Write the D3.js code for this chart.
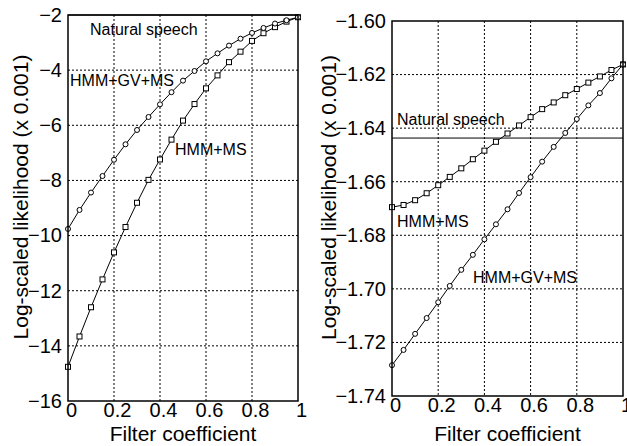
<!DOCTYPE html>
<html>
<head>
<meta charset="utf-8">
<title>Log-scaled likelihood vs filter coefficient</title>
<style>
  body { margin: 0; background: #fff; }
  text { font-family: "Liberation Sans", Arial, Helvetica, sans-serif; fill: #000; }
  .grid line { stroke: #000; stroke-width: 1; stroke-dasharray: 2,2; }
  .frame { fill: none; stroke: #000; stroke-width: 1.5; }
  .line { fill: none; stroke: #000; stroke-width: 1; }
</style>
<script src="https://d3js.org/d3.v7.min.js"></script>
</head>
<body>
<div id="chart"></div>
<script>
// filter coefficients (x values)
var coef = [0, 0.05, 0.1, 0.15, 0.2, 0.25, 0.3, 0.35, 0.4, 0.45, 0.5,
            0.55, 0.6, 0.65, 0.7, 0.75, 0.8, 0.85, 0.9, 0.95, 1.0];

// left panel (x 0.001)
var leftGvMs = [-9.76, -9.07, -8.44, -7.84, -7.25, -6.69, -6.17, -5.70, -5.24, -4.80, -4.38,
                -4.03, -3.68, -3.39, -3.11, -2.86, -2.65, -2.47, -2.31, -2.19, -2.08];
var leftMs = [-14.76, -13.66, -12.60, -11.59, -10.61, -9.69, -8.81, -7.98, -7.24, -6.52, -5.83,
              -5.23, -4.66, -4.19, -3.71, -3.33, -2.94, -2.66, -2.44, -2.24, -2.08];

// right panel (x 0.001)
var rightGvMs = [-1.7285, -1.7228, -1.7168, -1.7109, -1.7050, -1.6989, -1.6929, -1.6873, -1.6815, -1.6759, -1.6703,
                 -1.6642, -1.6583, -1.6525, -1.6470, -1.6418, -1.6366, -1.6315, -1.6269, -1.6214, -1.6162];
var rightMs = [-1.6695, -1.6687, -1.6669, -1.6643, -1.6613, -1.6582, -1.6550, -1.6516, -1.6484, -1.6451, -1.6420,
               -1.6390, -1.6359, -1.6329, -1.6304, -1.6277, -1.6254, -1.6230, -1.6207, -1.6183, -1.6162];

var naturalSpeech = -1.6437;

var xTicks = [0, 0.2, 0.4, 0.6, 0.8, 1];
var leftYTicks = [-2, -4, -6, -8, -10, -12, -14, -16];
var rightYTicks = [-1.60, -1.62, -1.64, -1.66, -1.68, -1.70, -1.72, -1.74];

var W = 627, H = 446;
var svg = d3.select("#chart").append("svg")
  .attr("width", W)
  .attr("height", H);

var panels = [
  {
    x0: 68, x1: 298, yTop: 15, yBot: 401,
    domain: [-16, -2], yTicks: leftYTicks, fmt: d3.format("d"),
    gv: leftGvMs, ms: leftMs, labelX: 21,
    notes: [
      {text: "Natural speech", x: 90, y: 29},
      {text: "HMM+GV+MS", x: 70, y: 80},
      {text: "HMM+MS", x: 175, y: 149}
    ]
  },
  {
    x0: 392, x1: 623, yTop: 21, yBot: 396,
    domain: [-1.74, -1.60], yTicks: rightYTicks, fmt: d3.format(".2f"),
    gv: rightGvMs, ms: rightMs, labelX: 329,
    notes: [
      {text: "Natural speech", x: 397, y: 119},
      {text: "HMM+MS", x: 397, y: 221},
      {text: "HMM+GV+MS", x: 473, y: 277}
    ]
  }
];

panels.forEach(function(p) {
  var x = d3.scaleLinear().domain([0, 1]).range([p.x0, p.x1]);
  var y = d3.scaleLinear().domain(p.domain).range([p.yBot, p.yTop]).clamp(true);

  var g = svg.append("g");

  // grid
  var grid = g.append("g").attr("class", "grid");
  grid.selectAll(".vx").data(xTicks.slice(1, -1)).enter()
    .append("line")
    .attr("x1", d => x(d)).attr("x2", d => x(d))
    .attr("y1", p.yTop).attr("y2", p.yBot);
  grid.selectAll(".hy").data(p.yTicks.slice(1, -1)).enter()
    .append("line")
    .attr("x1", p.x0).attr("x2", p.x1)
    .attr("y1", d => y(d)).attr("y2", d => y(d));

  // axes (labels only, frame drawn separately)
  var xAxis = d3.axisBottom(x).tickValues(xTicks).tickSize(0).tickPadding(2)
    .tickFormat(d3.format("~g"));
  g.append("g")
    .attr("transform", "translate(0," + p.yBot + ")")
    .call(xAxis)
    .call(s => s.select(".domain").remove())
    .selectAll("text")
    .style("font-size", "20px")
    .attr("dx", "3");

  var yAxis = d3.axisLeft(y).tickValues(p.yTicks).tickSize(0).tickPadding(6)
    .tickFormat(p.fmt);
  g.append("g")
    .attr("transform", "translate(" + p.x0 + ",0)")
    .call(yAxis)
    .call(s => s.select(".domain").remove())
    .selectAll("text")
    .style("font-size", "20px");

  g.selectAll(".tick line").remove();

  // natural speech reference line
  g.append("line")
    .attr("class", "line")
    .attr("x1", p.x0).attr("x2", p.x1)
    .attr("y1", y(naturalSpeech)).attr("y2", y(naturalSpeech));

  var line = d3.line()
    .x((d, i) => x(coef[i]))
    .y(d => y(d));

  // HMM+MS with squares
  g.append("path").attr("class", "line").attr("d", line(p.ms));
  g.selectAll(".sq").data(p.ms).enter()
    .append("rect")
    .attr("x", (d, i) => x(coef[i]) - 2.5)
    .attr("y", d => y(d) - 2.5)
    .attr("width", 5).attr("height", 5)
    .attr("fill", "#fff").attr("stroke", "#000").attr("stroke-width", 1);

  // HMM+GV+MS with circles
  g.append("path").attr("class", "line").attr("d", line(p.gv));
  g.selectAll(".ci").data(p.gv).enter()
    .append("circle")
    .attr("cx", (d, i) => x(coef[i]))
    .attr("cy", d => y(d))
    .attr("r", 2.5)
    .attr("fill", "#fff").attr("stroke", "#000").attr("stroke-width", 1);

  // frame
  g.append("rect").attr("class", "frame")
    .attr("x", p.x0).attr("y", p.yTop)
    .attr("width", p.x1 - p.x0).attr("height", p.yBot - p.yTop);

  // annotations
  g.selectAll(".note").data(p.notes).enter()
    .append("text")
    .attr("x", d => d.x).attr("y", d => d.y)
    .attr("dy", "0.35em")
    .style("font-size", "16px")
    .text(d => d.text);

  // axis titles
  g.append("text")
    .attr("x", (p.x0 + p.x1) / 2)
    .attr("y", 434)
    .attr("dy", "0.35em")
    .attr("text-anchor", "middle")
    .style("font-size", "21px")
    .text("Filter coefficient");

  g.append("text")
    .attr("transform", "translate(" + p.labelX + "," + ((p.yTop + p.yBot) / 2 - 11) + ") rotate(-90)")
    .attr("dy", "0.35em")
    .attr("text-anchor", "middle")
    .style("font-size", "21px")
    .text("Log-scaled likelihood (x 0.001)");
});
</script>
</body>
</html>
